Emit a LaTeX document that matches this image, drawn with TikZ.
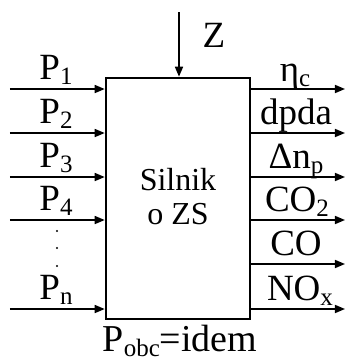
\documentclass[tikz,border=0pt]{standalone}
\usepackage{fontspec}
\setmainfont{Liberation Serif}
\usetikzlibrary{arrows.meta}
\newcommand{\sbx}[1]{\raisebox{-0.15em}{\fontsize{25}{28}\selectfont #1}}
\begin{document}
\begin{tikzpicture}[x=1pt,y=-1pt,
  lbl/.style={anchor=base,inner sep=0pt,font=\fontsize{37}{40}\selectfont},
  io/.style={line width=1.6pt,-{Triangle[length=10pt,width=8pt]}},
  block/.style={draw,line width=2.6pt,minimum width=144pt,minimum height=241pt,inner sep=0pt}]
\useasboundingbox (0,0) rectangle (345,360);
\node[block] (eng) at (178,198.5) {};
\node[anchor=base,inner sep=0pt,font=\fontsize{32}{36}\selectfont] (t1) at (178,190) {Silnik};
\node[anchor=base,inner sep=0pt,font=\fontsize{32}{36}\selectfont] (t2) at (178,224) {o ZS};
% top input
\coordinate (z0) at (179,12);
\draw[io] (z0) -- (eng.north -| z0);
\node[lbl] (zl) at (214,47) {Z};
% left inputs
\foreach \y/\t/\n in {89/1/a,133/2/b,177/3/c,220/4/d,309/n/e}{
  \coordinate (l\n) at (10,\y);
  \draw[io] (l\n) -- (eng.west |- l\n);
  \node[lbl] (pl\n) at (56,\y-10) {P\sbx{\t}};
}
\foreach \y/\k in {231/1,248/2,266/3}{
  \fill (57,\y) circle (1.1pt);
}
% right outputs
\foreach \y/\n in {89/a,133/b,177/c,220/d,264/e,309/f}{
  \coordinate (r\n) at (345,\y);
  \draw[io] (eng.east |- r\n) -- (r\n);
}
\node[lbl] (ra) at (295,81) {η\sbx{c}};
\node[lbl] (rb) at (296,124) {dpda};
\node[lbl] (rc) at (296,168) {Δn\sbx{p}};
\node[lbl] (rd) at (297,211) {CO\sbx{2}};
\node[lbl] (re) at (296,255) {CO};
\node[lbl] (rf) at (300,300) {NO\sbx{x}};
% bottom
\node[lbl,font=\fontsize{38}{40}\selectfont] (pobc) at (180,351) {P\sbx{obc}=idem};
\end{tikzpicture}
\end{document}
